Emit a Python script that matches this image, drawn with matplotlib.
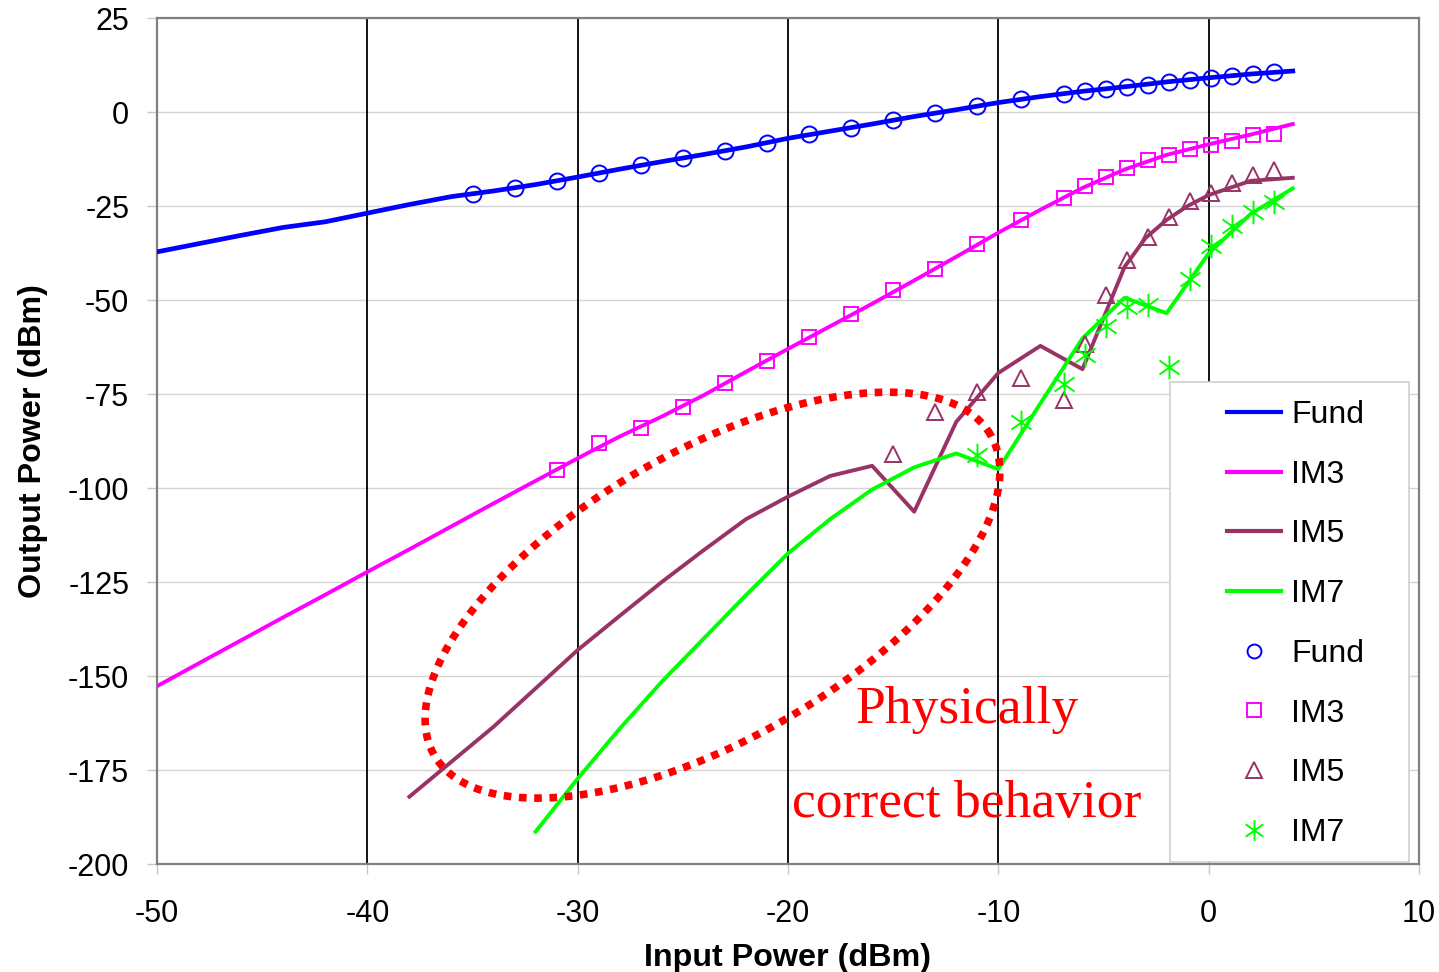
import numpy as np
import matplotlib
matplotlib.use("Agg")
import matplotlib.pyplot as plt
from matplotlib.path import Path
from matplotlib.patches import Rectangle
from matplotlib.lines import Line2D

plt.rcParams['font.family'] = ['Liberation Sans', 'DejaVu Sans']
plt.rcParams['axes.unicode_minus'] = False

# simulated curves (solid lines)
fund_x = list(range(-50, 5, 2))
fund_y = [-37.2, -35.0, -32.8, -30.7, -29.2, -26.9, -24.6, -22.5, -21.0, -19.3,
          -17.3, -15.2, -13.2, -11.3, -9.3, -7.0, -5.1, -3.2, -1.2, 0.6,
          2.5, 4.1, 5.5, 6.7, 8.0, 9.1, 10.1, 10.9]

im3_x = list(range(-50, 5, 2))
im3_y = [-152.7, -146.6, -140.5, -134.4, -128.4, -122.3, -116.3, -110.2, -104.1, -98.1,
         -92.1, -86.3, -81.0, -75.3, -69.1, -63.0, -57.0, -51.0, -44.8, -38.5,
         -32.1, -26.0, -20.2, -15.3, -11.4, -8.6, -6.0, -3.2]

im5_x = [-38, -36, -34, -32, -30, -28, -26, -24, -22, -20, -18, -16, -14, -12,
         -10, -8, -6, -4, -3, -2, -1, 0, 2, 4]
im5_y = [-182.1, -172.8, -163.5, -153.3, -143.1, -134.0, -125.0, -116.5, -108.3, -102.3,
         -96.8, -94.1, -106.3, -82.4, -69.4, -62.2, -68.4, -41.2, -33.5, -28.7,
         -25.0, -22.1, -18.3, -17.5]

im7_x = [-32, -30, -28, -26, -24, -22, -20, -18, -16, -14, -12, -10, -8, -6,
         -4, -2, 0, 2, 4]
im7_y = [-191.4, -177.3, -164.0, -151.5, -140.0, -128.5, -117.4, -108.3, -100.4, -94.5,
         -90.8, -95.0, -77.5, -60.2, -49.4, -53.5, -37.6, -27.1, -20.3]

# measured points (markers)
meas_x = [-35, -33, -31, -29, -27, -25, -23, -21, -19, -17, -15, -13, -11,
          -8.9, -6.9, -5.9, -4.9, -3.9, -2.9, -1.9, -0.9, 0.1, 1.1, 2.1, 3.1]
fund_meas = [-21.8, -20.2, -18.4, -16.2, -14.1, -12.2, -10.4, -8.2, -5.9, -4.3,
             -2.1, -0.3, 1.6, 3.5, 4.8, 5.6, 6.1, 6.6, 7.2, 8.0, 8.5, 9.0, 9.6, 10.1, 10.6]
im3_meas = [-95.2, -88.0, -84.0, -78.5, -72.1, -66.2, -59.8, -53.8, -47.4, -41.7,
            -35.2, -28.8, -23.0, -19.8, -17.2, -14.8, -12.7, -11.4, -9.9, -8.8,
            -7.7, -6.1, -5.9]
im5_meas = [-91.0, -79.7, -74.4, -70.8, -76.6, -61.8, -48.7, -39.4, -33.2, -27.8,
            -23.8, -21.5, -18.8, -16.8, -15.4]
im7_meas = [-91.2, -82.4, -72.4, -64.6, -56.8, -51.9, -51.3, -67.7, -44.5, -35.6,
            -30.3, -26.5, -23.9]

names = ['Fund', 'IM3', 'IM5', 'IM7']
colors = ['#0000FF', '#FF00FF', '#993366', '#00FF00']

xticks = list(range(-50, 11, 10))
yticks = list(range(-200, 26, 25))
black_lines = [-40, -30, -20, -10, 0]

# asterisk marker like the Excel one
star = Path([(0, -1), (0, 1), (-0.85, -0.6), (0.85, 0.6), (-0.85, 0.6), (0.85, -0.6)],
            [Path.MOVETO, Path.LINETO, Path.MOVETO, Path.LINETO, Path.MOVETO, Path.LINETO])

fig = plt.figure(figsize=(14.39, 9.72), dpi=100)
ax = fig.add_axes([157 / 1439, 1 - 864 / 972, 1262 / 1439, 846 / 972])
ax.set_xlim(-50, 10)
ax.set_ylim(-200, 25)
ax.set_xticks(xticks)
ax.set_yticks(yticks)
ax.yaxis.grid(True, color='#d4d4d4', lw=1.0, zorder=0)
ax.set_axisbelow(True)
ax.vlines(black_lines, -200, 25, colors='black', lw=1.3, zorder=1)

for sp in ax.spines.values():
    sp.set_color('#808080')
    sp.set_linewidth(1.6)

ax.tick_params(direction='out', length=7, width=1, color='#c8c8c8',
               labelsize=22, pad=13)
ax.tick_params(axis='x', pad=18)

# lines
ax.plot(fund_x, fund_y, color=colors[0], lw=3.4, zorder=3)
ax.plot(im3_x, im3_y, color=colors[1], lw=2.8, zorder=3)
ax.plot(im5_x, im5_y, color=colors[2], lw=2.8, zorder=3)
ax.plot(im7_x, im7_y, color=colors[3], lw=2.8, zorder=3)

# markers
n3 = len(im3_meas)
n5 = len(im5_meas)
n7 = len(im7_meas)
ax.plot(meas_x, fund_meas, ls='none', marker='o', ms=11.5, mfc='none',
        mec=colors[0], mew=1.4, zorder=4)
ax.plot(meas_x[-n3:], im3_meas, ls='none', marker='s', ms=10, mfc='none',
        mec=colors[1], mew=1.4, zorder=4)
ax.plot(meas_x[-n5:], im5_meas, ls='none', marker='^', ms=11.5, mfc='none',
        mec=colors[2], mew=1.4, zorder=4)
ax.plot(meas_x[-n7:], im7_meas, ls='none', marker=star, ms=17, mfc='none',
        mec=colors[3], mew=1.4, zorder=4)

# dotted ellipse (size given in pixels, converted to data units)
px_x = 1262 / 60.0
px_y = 846 / 225.0
ell_cx, ell_cy = -23.59, -128.5
ell_a, ell_b, ell_ang = 321.0, 144.0, np.radians(29.9)
t = np.linspace(0, 2 * np.pi, 600)
ex = ell_a * np.cos(t) * np.cos(ell_ang) - ell_b * np.sin(t) * np.sin(ell_ang)
ey = ell_a * np.cos(t) * np.sin(ell_ang) + ell_b * np.sin(t) * np.cos(ell_ang)
ax.plot(ell_cx + ex / px_x, ell_cy + ey / px_y, color='red', lw=5.5,
        ls=(0, (1, 1.0)), zorder=5)

ax.text(-11.5, -162.5, 'Physically', color='red', fontsize=38.5,
        family='Liberation Serif', ha='center', va='baseline', zorder=6)
ax.text(-11.5, -187.5, 'correct behavior', color='red', fontsize=38.5,
        family='Liberation Serif', ha='center', va='baseline', zorder=6)

# legend with its own frame
ax.add_patch(Rectangle((0.8027, 0.0024), 0.1894, 0.5673, transform=ax.transAxes,
                       facecolor='white', edgecolor='#d0d0d0', lw=1.2, zorder=7))
handles = [Line2D([], [], color=c, lw=3) for c in colors]
handles += [
    Line2D([], [], ls='none', marker='o', ms=10, mfc='none', mec=colors[0], mew=1.4),
    Line2D([], [], ls='none', marker='s', ms=10, mfc='none', mec=colors[1], mew=1.4),
    Line2D([], [], ls='none', marker='^', ms=11, mfc='none', mec=colors[2], mew=1.4),
    Line2D([], [], ls='none', marker=star, ms=15, mfc='none', mec=colors[3], mew=1.4),
]
leg = ax.legend(handles, names + names, loc='upper left',
                bbox_to_anchor=((1227 - 157) / 1262, (864 - 400) / 846),
                frameon=False, fontsize=23, borderpad=0, borderaxespad=0,
                handlelength=1.7, handletextpad=0.3, labelspacing=0.93)
leg.set_zorder(8)

ax.set_xlabel('Input Power (dBm)', fontsize=23.2, fontweight='bold')
ax.set_ylabel('Output Power (dBm)', fontsize=23.2, fontweight='bold')
ax.xaxis.set_label_coords(0.5, -0.093)
ax.yaxis.set_label_coords(-0.086, 0.5)

fig.savefig('out.png', dpi=100)
